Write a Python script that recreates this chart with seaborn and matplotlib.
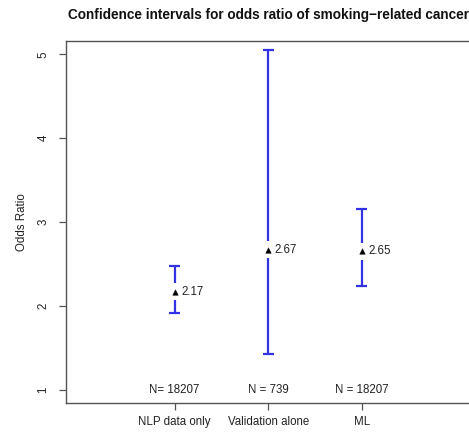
import numpy as np
import pandas as pd
import seaborn as sns
import matplotlib.pyplot as plt

# Data
groups = ["NLP data only", "Validation alone", "ML"]
odds_ratio = [2.17, 2.67, 2.65]
ci_lower = [1.92, 1.42, 2.24]
ci_upper = [2.47, 5.05, 3.15]
n_labels = ["N= 18207", "N = 739", "N = 18207"]

sns.set_style("white")
plt.rcParams["font.family"] = ["Liberation Sans", "DejaVu Sans"]

df = pd.DataFrame(
    {
        "pos": np.arange(1, len(groups) + 1),
        "group": groups,
        "odds": odds_ratio,
        "lo": ci_lower,
        "hi": ci_upper,
        "n": n_labels,
    }
)

fig = plt.figure(figsize=(4.69, 4.34), dpi=100)
ax = fig.add_axes([0.1407, 0.0714, 0.8625, 0.834])

bar_color = "#3232e6"
gap = 0.10
cap = 0.058

# Confidence interval bars with a gap around the point estimate
ax.vlines(df["pos"], df["lo"], df["odds"] - gap, color=bar_color, lw=1.6)
ax.vlines(df["pos"], df["odds"] + gap, df["hi"], color=bar_color, lw=1.6)
ax.hlines(df["lo"], df["pos"] - cap, df["pos"] + cap, color=bar_color, lw=1.6)
ax.hlines(df["hi"], df["pos"] - cap, df["pos"] + cap, color=bar_color, lw=1.6)

# Point estimates
sns.scatterplot(
    data=df, x="pos", y="odds", marker="^", color="black", s=16,
    edgecolor="black", linewidth=0.3, ax=ax, zorder=3,
)

for _, row in df.iterrows():
    ax.text(row["pos"] + 0.07, row["odds"], f"{row['odds']:.2f}",
            fontsize=8.3, va="center", ha="left", color="#222222")
    ax.text(row["pos"], 1.0, row["n"], fontsize=8.3, va="center",
            ha="center", color="#222222")

ax.set_xlim(-0.16, 4.16)
ax.set_ylim(0.84, 5.16)
ax.set_xticks(df["pos"])
ax.set_xticklabels(groups, fontsize=8.3, color="#222222")
ax.set_yticks([1, 2, 3, 4, 5])
ax.set_yticklabels(["1", "2", "3", "4", "5"], fontsize=8.3, rotation=90,
                   va="center", color="#222222")
ax.tick_params(axis="both", direction="out", length=5, width=0.9,
               color="#555555", left=True, bottom=True)
ax.tick_params(axis="x", pad=4)
ax.tick_params(axis="y", pad=7)
ax.set_xlabel("")
ax.set_ylabel("Odds Ratio", fontsize=8.3, labelpad=7, color="#222222")

for sp in ax.spines.values():
    sp.set_visible(True)
    sp.set_color("#555555")
    sp.set_linewidth(1.0)

ax.set_title("Confidence intervals for odds ratio of smoking\u2212related cancer",
             fontsize=9.8, fontweight="bold", pad=16, color="#111111")

plt.savefig("out.png", dpi=100)
